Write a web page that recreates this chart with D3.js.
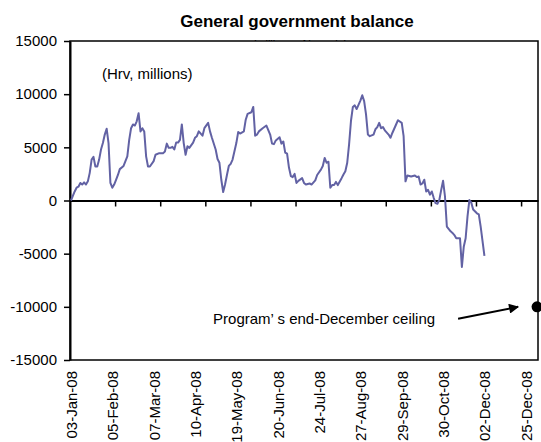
<!DOCTYPE html>
<html>
<head>
<meta charset="utf-8">
<script src="https://cdn.jsdelivr.net/npm/d3@7"></script>
<style>
  body { margin: 0; background: #fff; }
  svg { display: block; font-family: "Liberation Sans", Arial, sans-serif; }
</style>
</head>
<body>
<div class="chart"></div>
<script>
//data//
let tickLabels = ['03-Jan-08', '05-Feb-08', '07-Mar-08', '10-Apr-08', '19-May-08', '20-Jun-08',
    '24-Jul-08', '27-Aug-08', '29-Sep-08', '30-Oct-08', '02-Dec-08', '25-Dec-08'];
let nDays = 249;        // categories on the axis (working days)
let labelEvery = 22;    // one date label every 22 categories
let tickEvery = 24;     // tick marks every 24 categories

// day index (category) and balance, UAH millions
let dayIndex = [0, 2, 3, 4, 5, 6, 7, 8, 9, 10, 11, 12, 13, 14, 15, 16, 17, 18, 19, 20,
    21, 22, 23, 24, 25, 26, 28, 29, 30, 31, 32, 33, 34, 35, 36, 37, 38, 39, 40, 41,
    42, 44, 45, 47, 49, 50, 51, 52, 53, 54, 55, 56, 57, 58, 59, 60, 61, 62, 63, 65,
    66, 67, 68, 70, 71, 73, 74, 75, 77, 78, 79, 80, 81, 82, 83, 84, 85, 86, 88, 89,
    90, 92, 93, 94, 96, 97, 98, 99, 100, 102, 104, 106, 107, 108, 109, 111, 112, 113, 114, 115,
    116, 117, 118, 119, 120, 121, 123, 124, 125, 127, 128, 130, 131, 133, 134, 135, 136, 137, 138, 139,
    140, 141, 142, 144, 145, 146, 147, 148, 149, 150, 151, 152, 153, 154, 155, 156, 157, 158, 159, 161,
    162, 163, 164, 165, 166, 167, 169, 170, 171, 173, 174, 176, 177, 178, 179, 181, 183, 184, 185, 186,
    187, 188, 189, 190, 191, 192, 193, 194, 195, 196, 197, 198, 199, 200, 202, 203, 204, 205, 207, 208,
    209, 210, 211, 212, 213, 214, 216, 217, 218, 220];
let balance = [0, 850, 1200, 1300, 1650, 1500, 1700, 1500, 1800, 2600, 3850, 4100, 3200, 3200, 3850, 4800, 5400, 6200, 6750, 5400,
    1650, 1200, 1500, 1950, 2400, 2950, 3250, 3700, 4150, 5700, 6800, 7150, 7050, 7450, 8200, 6500, 6800, 6500, 4150, 3200,
    3200, 3700, 4300, 4450, 4450, 4600, 5350, 4950, 4950, 5050, 4800, 5450, 5450, 5700, 7150, 5400, 4300, 5100, 4950, 5450,
    5900, 6050, 6500, 6100, 6800, 7300, 6500, 5900, 4800, 3900, 3550, 1950, 800, 1500, 2400, 3250, 3450, 3850, 5400, 6450,
    6300, 6500, 7600, 8150, 8300, 8800, 6100, 6200, 6500, 6800, 7050, 6200, 5350, 5300, 5650, 5950, 5350, 5550, 4500, 4400,
    3100, 2300, 2200, 2500, 1650, 1850, 2100, 1650, 1500, 1600, 1500, 1900, 2400, 2900, 3250, 4000, 3550, 3650, 1200, 1450,
    1450, 1750, 1450, 2100, 2450, 2750, 3550, 5300, 7500, 8800, 8950, 8600, 9000, 9400, 9900, 9350, 8100, 6200, 6050, 6200,
    6700, 6900, 7300, 6800, 6900, 6600, 6200, 5900, 6350, 7150, 7550, 7300, 6050, 1800, 2350, 2250, 2350, 2200, 2250, 1500,
    1600, 1950, 850, 1000, 550, 850, 250, -250, -300, 50, 1000, 1850, 400, -2450, -2900, -3050, -3250, -3550, -3550, -6250,
    -4350, -3550, -1500, 50, -200, -850, -1200, -1300, -2450, -5200];

let ceilingDay = 248;
let ceilingValue = -10000;
let yTicks = [-15000, -10000, -5000, 0, 5000, 10000, 15000];

//sizes//
let w = 541;
let h = 442;
let plotLeft = 70, plotRight = 538, plotTop = 41, plotBottom = 360;

let svg = d3.select('.chart')
    .append('svg')
    .attr('width', w)
    .attr('height', h);

let xScale = d3.scaleLinear()
    .domain([0, nDays])
    .range([plotLeft, plotRight]);

let yScale = d3.scaleLinear()
    .domain([-15000, 15000])
    .range([plotBottom, plotTop]);

//titles (subtitle sits mostly behind the plot area)//
svg.append('text')
    .attr('x', 297)
    .attr('y', 27)
    .attr('text-anchor', 'middle')
    .style('font-size', '17px')
    .style('font-weight', 'bold')
    .text('General government balance');

svg.append('text')
    .attr('x', 300)
    .attr('y', 47.5)
    .attr('text-anchor', 'middle')
    .style('font-size', '11px')
    .text('(millions of hryvnia)');

svg.append('rect')
    .attr('x', plotLeft)
    .attr('y', plotTop)
    .attr('width', plotRight - plotLeft)
    .attr('height', plotBottom - plotTop)
    .style('fill', '#ffffff')
    .style('stroke', '#000')
    .style('stroke-width', 1.5);

svg.append('text')
    .attr('x', 102)
    .attr('y', 79)
    .style('font-size', '15px')
    .text('(Hrv, millions)');

//axes//
let yAxis = d3.axisLeft(yScale)
    .tickValues(yTicks)
    .tickSize(6)
    .tickSizeOuter(0)
    .tickPadding(7)
    .tickFormat(d => d);

svg.append('g')
    .attr('id', 'y-axis')
    .attr('transform', 'translate(' + plotLeft + ',0)')
    .call(yAxis)
    .call(g => g.select('.domain').style('stroke-width', 2))
    .call(g => g.selectAll('line').style('stroke-width', 1.5))
    .call(g => g.selectAll('text').style('font-size', '15px').style('fill', '#000'));

let tickDays = d3.range(tickEvery, nDays, tickEvery);
let xAxis = d3.axisBottom(xScale)
    .tickValues(tickDays)
    .tickSize(6)
    .tickSizeOuter(0)
    .tickFormat('');

svg.append('g')
    .attr('id', 'x-axis')
    .attr('transform', 'translate(0,' + yScale(0) + ')')
    .call(xAxis)
    .call(g => g.select('.domain').style('stroke-width', 2))
    .call(g => g.selectAll('line').style('stroke-width', 1.5));

let labelDays = tickLabels.map((d, i) => i * labelEvery + 0.5);
let labelAxis = d3.axisBottom(xScale)
    .tickValues(labelDays)
    .tickSize(0)
    .tickFormat((d, i) => tickLabels[i]);

svg.append('g')
    .attr('id', 'x-labels')
    .attr('transform', 'translate(0,' + plotBottom + ')')
    .call(labelAxis)
    .call(g => g.select('.domain').remove())
    .selectAll('text')
    .attr('transform', 'rotate(-90)')
    .attr('x', -11)
    .attr('y', 0)
    .attr('dy', '0.36em')
    .style('text-anchor', 'end')
    .style('font-size', '15px')
    .style('fill', '#000');

//series//
let line = d3.line()
    .x((d, i) => xScale(dayIndex[i] + 0.5))
    .y(d => yScale(d));

svg.append('path')
    .datum(balance)
    .attr('d', line)
    .style('fill', 'none')
    .style('stroke', '#6262a4')
    .style('stroke-width', 2)
    .style('stroke-linejoin', 'round');

//ceiling point and note//
let cx = xScale(ceilingDay + 0.5);
let cy = yScale(ceilingValue);

svg.append('circle')
    .attr('cx', cx)
    .attr('cy', cy)
    .attr('r', 5.5)
    .style('fill', '#000');

svg.append('defs')
    .append('marker')
    .attr('id', 'head')
    .attr('viewBox', '0 0 10 10')
    .attr('refX', 9)
    .attr('refY', 5)
    .attr('markerWidth', 6.5)
    .attr('markerHeight', 5)
    .attr('markerUnits', 'strokeWidth')
    .attr('orient', 'auto')
    .append('path')
    .attr('d', 'M0,0 L10,5 L0,10 z')
    .style('fill', '#000');

svg.append('line')
    .attr('x1', cx - 79)
    .attr('y1', cy + 12)
    .attr('x2', cx - 19)
    .attr('y2', cy)
    .style('stroke', '#000')
    .style('stroke-width', 2)
    .attr('marker-end', 'url(#head)');

svg.append('text')
    .attr('x', cx - 324)
    .attr('y', cy + 17)
    .style('font-size', '15px')
    .text('Program\u2019 s end-December ceiling');
</script>
</body>
</html>
